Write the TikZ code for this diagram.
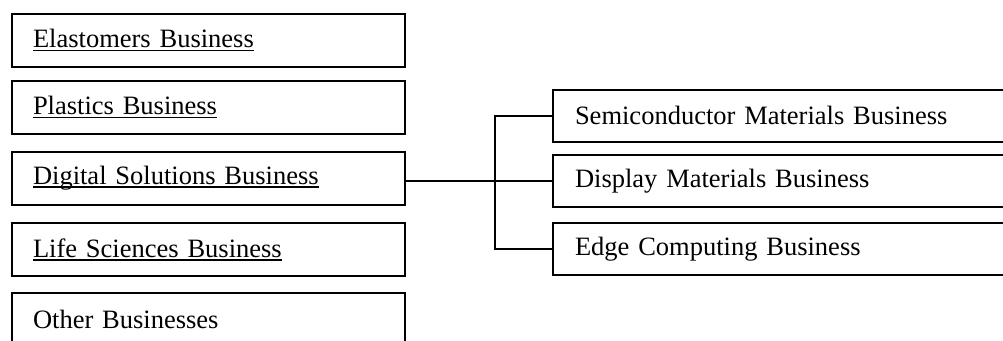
\documentclass[tikz,border=0pt]{standalone}
\usepackage{fontspec}
\setmainfont{Liberation Serif}
\newsavebox\ulbox
\newcommand\myul[1]{\sbox\ulbox{#1}\rlap{\rule[-3.5pt]{\wd\ulbox}{1.5pt}}\usebox\ulbox}
\begin{document}
\begin{tikzpicture}[x=1pt,y=-1pt,
  lbox/.style={draw,line width=2pt,rectangle,minimum height=53pt,inner xsep=21pt,
    text width=351pt,align=left,font=\fontsize{26.5}{30}\selectfont},
  rbox/.style={draw,line width=2pt,rectangle,minimum height=52pt,inner xsep=22pt,
    text width=423pt,align=left,font=\fontsize{26.5}{30}\selectfont},
  conn/.style={line width=2pt}]
\clip (0,0) rectangle (1003,340);
\node[lbox] (ela) at (208.5,40.5) {\myul{Elastomers Business}};
\node[lbox] (pla) at (208.5,107.5) {\myul{Plastics Business}};
\node[lbox] (dig) at (208.5,178) {\myul{Digital Solutions Business}};
\node[lbox] (life) at (208.5,249.5) {\myul{Life Sciences Business}};
\node[lbox] (oth) at (208.5,319.5) {Other Businesses};
\node[rbox] (semi) at (786.5,115.5) {Semiconductor Materials Business};
\node[rbox] (disp) at (786.5,181) {Display Materials Business};
\node[rbox] (edge) at (786.5,249) {Edge Computing Business};
\coordinate (jn) at (495,181);
\draw[conn] (dig.east |- disp.west) -- (disp.west);
\draw[conn] (semi.west) -| (jn |- edge.west) -- (edge.west);
\end{tikzpicture}
\end{document}
